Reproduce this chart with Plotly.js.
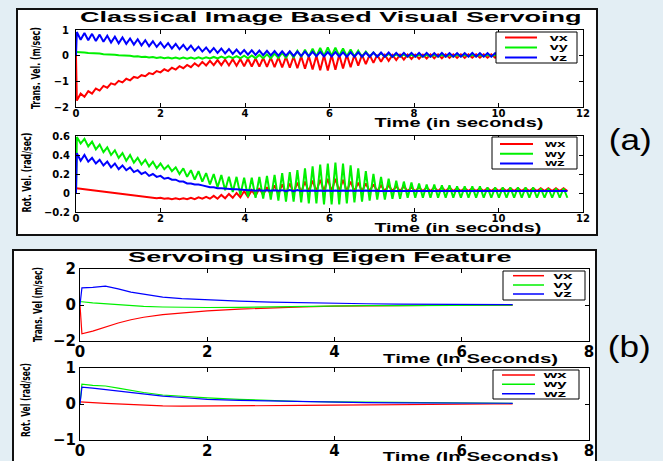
<!DOCTYPE html>
<html>
<head>
<meta charset="utf-8">
<script src="https://cdn.plot.ly/plotly-3.0.1.min.js"></script>
<style>
html,body{margin:0;padding:0;background:#e3eef4;}
#plot{width:663px;height:461px;}
</style>
</head>
<body>
<div id="plot"></div>
<script>
// ---------------- DATA ----------------
const namesV = ['vx', 'vy', 'vz'];
const namesW = ['wx', 'wy', 'wz'];

// Panel (a): oscillating responses, one value per half-cycle
// time base of the oscillation (seconds)
const cycleStart = 0.02;
const cyclePeriod = 0.18;

// Trans. vel (a): first value of each cycle, then second value of each cycle
const vxA_1 = [-1.75,-1.60,-1.48,-1.36,-1.25,-1.13,-1.04,-0.96,-0.87,-0.80,
 -0.72,-0.65,-0.60,-0.54,-0.49,-0.45,-0.41,-0.38,-0.37,-0.37,
 -0.38,-0.39,-0.41,-0.42,-0.43,-0.44,-0.45,-0.46,-0.47,-0.49,
 -0.51,-0.54,-0.57,-0.58,-0.55,-0.50,-0.45,-0.39,-0.33,-0.28,
 -0.24,-0.20,-0.17,-0.15,-0.13,-0.12,-0.11,-0.10,-0.10,-0.09,
 -0.09,-0.09,-0.08,-0.08,-0.08,-0.08,-0.07,-0.07,-0.07,-0.07,
 -0.07,-0.06,-0.06,-0.06,-0.06];
const vxA_2 = [-1.48,-1.38,-1.28,-1.18,-1.08,-0.98,-0.90,-0.83,-0.76,-0.68,
 -0.60,-0.53,-0.47,-0.41,-0.36,-0.30,-0.24,-0.20,-0.17,-0.15,
 -0.14,-0.13,-0.12,-0.11,-0.09,-0.08,-0.07,-0.05,-0.04,-0.02,
 -0.01,0.00,0.02,0.03,0.04,0.04,0.03,0.03,0.03,0.03,
 0.03,0.03,0.04,0.04,0.04,0.04,0.05,0.05,0.05,0.05,
 0.05,0.05,0.05,0.05,0.05,0.05,0.05,0.05,0.05,0.05,
 0.05,0.05,0.05,0.05,0.05];
const vyA_1 = [0.14,0.12,0.10,0.08,0.06,0.04,0.02,0.00,-0.02,-0.04,
 -0.05,-0.06,-0.07,-0.07,-0.07,-0.07,-0.06,-0.06,-0.05,-0.04,
 -0.03,-0.02,0.00,0.01,0.03,0.05,0.08,0.11,0.15,0.19,
 0.23,0.27,0.30,0.32,0.31,0.28,0.24,0.20,0.16,0.12,
 0.09,0.07,0.05,0.04,0.03,0.03,0.03,0.03,0.03,0.03,
 0.03,0.03,0.03,0.03,0.03,0.03,0.03,0.03,0.03,0.03,
 0.03,0.03,0.03,0.03,0.03];
const vyA_2 = [0.13,0.10,0.08,0.06,0.04,0.02,0.00,-0.03,-0.05,-0.07,
 -0.09,-0.10,-0.11,-0.12,-0.12,-0.12,-0.12,-0.11,-0.11,-0.10,
 -0.10,-0.10,-0.10,-0.10,-0.10,-0.10,-0.09,-0.08,-0.07,-0.05,
 -0.04,-0.02,-0.01,0.00,-0.01,-0.02,-0.03,-0.04,-0.04,-0.04,
 -0.04,-0.04,-0.04,-0.04,-0.04,-0.04,-0.04,-0.04,-0.04,-0.04,
 -0.03,-0.03,-0.03,-0.03,-0.03,-0.03,-0.03,-0.03,-0.03,-0.03,
 -0.03,-0.03,-0.03,-0.03,-0.03];
const vzA_1 = [0.92,0.88,0.85,0.82,0.78,0.74,0.71,0.67,0.64,0.60,
 0.56,0.52,0.49,0.46,0.42,0.39,0.35,0.32,0.30,0.28,
 0.26,0.24,0.22,0.21,0.20,0.19,0.18,0.17,0.17,0.16,
 0.16,0.15,0.15,0.14,0.14,0.13,0.13,0.13,0.12,0.12,
 0.12,0.12,0.11,0.11,0.11,0.11,0.11,0.10,0.11,0.10,
 0.10,0.10,0.11,0.10,0.10,0.10,0.10,0.10,0.10,0.10,
 0.10,0.10,0.09,0.10,0.10];
const vzA_2 = [0.62,0.60,0.57,0.54,0.51,0.48,0.46,0.43,0.40,0.37,
 0.34,0.31,0.28,0.25,0.22,0.19,0.16,0.13,0.11,0.09,
 0.07,0.06,0.04,0.03,0.02,0.01,0.00,0.00,-0.01,-0.01,
 -0.02,-0.02,-0.03,-0.03,-0.03,-0.04,-0.04,-0.04,-0.04,-0.04,
 -0.04,-0.04,-0.04,-0.04,-0.04,-0.04,-0.04,-0.04,-0.04,-0.04,
 -0.04,-0.04,-0.04,-0.04,-0.04,-0.04,-0.04,-0.04,-0.04,-0.04,
 -0.04,-0.04,-0.04,-0.04,-0.04];
const vStartA = [0, 0.14, 0];   // values at t = 0

// Rot. vel (a)
const wxA_1 = [0.05,0.04,0.03,0.02,0.01,0.00,-0.01,-0.02,-0.03,-0.04,
 -0.05,-0.05,-0.055,-0.055,-0.055,-0.05,-0.045,-0.04,-0.03,-0.02,
 -0.01,0.00,0.02,0.03,0.05,0.06,0.08,0.09,0.10,0.11,
 0.12,0.13,0.14,0.15,0.15,0.14,0.12,0.11,0.10,0.09,
 0.08,0.08,0.07,0.07,0.06,0.06,0.06,0.06,0.06,0.06,
 0.05,0.05,0.05,0.05,0.05,0.05,0.05,0.05,0.05,0.05,
 0.05,0.05,0.05,0.05,0.05];
const wxA_2 = [0.045,0.035,0.025,0.015,0.005,-0.005,-0.015,-0.025,-0.035,-0.045,
 -0.055,-0.06,-0.065,-0.065,-0.065,-0.065,-0.06,-0.06,-0.06,-0.055,
 -0.05,-0.045,-0.04,-0.03,-0.02,-0.015,-0.01,0.00,0.005,0.01,
 0.015,0.02,0.02,0.02,0.02,0.02,0.02,0.02,0.02,0.02,
 0.02,0.02,0.02,0.02,0.02,0.02,0.02,0.02,0.02,0.02,
 0.02,0.02,0.02,0.02,0.02,0.02,0.02,0.02,0.02,0.02,
 0.02,0.02,0.02,0.02,0.02];
const wyA_1 = [0.59,0.57,0.54,0.51,0.48,0.45,0.42,0.40,0.37,0.35,
 0.33,0.31,0.29,0.27,0.26,0.24,0.23,0.21,0.20,0.19,
 0.17,0.17,0.16,0.16,0.17,0.18,0.19,0.21,0.22,0.24,
 0.26,0.28,0.30,0.31,0.32,0.31,0.29,0.26,0.23,0.20,
 0.17,0.15,0.13,0.12,0.11,0.10,0.09,0.09,0.08,0.08,
 0.07,0.07,0.07,0.07,0.06,0.06,0.06,0.06,0.06,0.06,
 0.06,0.05,0.05,0.05,0.05];
const wyA_2 = [0.52,0.49,0.46,0.43,0.40,0.37,0.34,0.32,0.30,0.28,
 0.26,0.25,0.23,0.20,0.17,0.14,0.12,0.09,0.06,0.03,
 0.01,-0.02,-0.04,-0.05,-0.06,-0.07,-0.08,-0.09,-0.09,-0.10,
 -0.11,-0.11,-0.12,-0.12,-0.12,-0.11,-0.10,-0.09,-0.08,-0.07,
 -0.07,-0.06,-0.06,-0.05,-0.05,-0.05,-0.05,-0.05,-0.05,-0.05,
 -0.05,-0.05,-0.05,-0.05,-0.05,-0.05,-0.05,-0.05,-0.05,-0.05,
 -0.05,-0.05,-0.05,-0.05,-0.05];
const wzA_1 = [0.42,0.40,0.37,0.35,0.33,0.31,0.29,0.27,0.24,0.22,
 0.20,0.18,0.16,0.14,0.12,0.10,0.09,0.07,0.06,0.05,
 0.045,0.04,0.035,0.03,0.03,0.03,0.03,0.03,0.03,0.03,
 0.025,0.025,0.025,0.025,0.025,0.025,0.025,0.025,0.025,0.025,
 0.02,0.02,0.02,0.02,0.02,0.02,0.02,0.02,0.02,0.02,
 0.02,0.02,0.02,0.02,0.02,0.02,0.02,0.02,0.02,0.02,
 0.02,0.02,0.02,0.02,0.02];
const wzA_2 = [0.34,0.33,0.31,0.29,0.27,0.25,0.24,0.22,0.20,0.18,
 0.17,0.15,0.14,0.12,0.10,0.09,0.08,0.06,0.05,0.045,
 0.04,0.035,0.03,0.025,0.025,0.025,0.025,0.02,0.02,0.02,
 0.02,0.02,0.02,0.02,0.02,0.02,0.02,0.02,0.02,0.02,
 0.02,0.02,0.02,0.02,0.02,0.02,0.02,0.02,0.02,0.02,
 0.02,0.02,0.02,0.02,0.02,0.02,0.02,0.02,0.02,0.02,
 0.02,0.02,0.02,0.02,0.02];
const wStartA = [0.05, 0, 0];

// Panel (b): smooth responses
const timeB = [0, 0.03, 0.2, 0.4, 0.6, 0.8, 1.0, 1.3, 1.6, 2.0, 2.5, 3.0, 3.5, 4.0, 4.5, 5.0, 5.5, 6.0, 6.5, 6.8];
const vxB = [0, -1.6, -1.45, -1.22, -1.0, -0.82, -0.68, -0.54, -0.44, -0.33, -0.23, -0.15, -0.1, -0.06, -0.04, -0.03, -0.02, -0.01, -0.01, -0.01];
const vyB = [0.18, 0.18, 0.12, 0.06, 0.01, -0.04, -0.08, -0.11, -0.13, -0.14, -0.13, -0.1, -0.08, -0.06, -0.04, -0.03, -0.02, -0.01, -0.01, -0.01];
const vzB = [0, 0.95, 0.98, 1.05, 0.9, 0.72, 0.6, 0.44, 0.35, 0.27, 0.21, 0.16, 0.12, 0.09, 0.07, 0.05, 0.04, 0.03, 0.02, 0.02];
const wxB = [0.06, 0.06, 0.04, 0.02, 0.0, -0.02, -0.04, -0.05, -0.06, -0.06, -0.06, -0.05, -0.04, -0.03, -0.02, -0.015, -0.01, -0.01, 0.0, 0.0];
const wyB = [0, 0.55, 0.52, 0.5, 0.44, 0.37, 0.32, 0.25, 0.21, 0.17, 0.13, 0.09, 0.07, 0.06, 0.05, 0.04, 0.03, 0.02, 0.02, 0.02];
const wzB = [0, 0.47, 0.44, 0.40, 0.35, 0.31, 0.27, 0.22, 0.18, 0.13, 0.1, 0.08, 0.06, 0.05, 0.04, 0.03, 0.025, 0.02, 0.02, 0.02];

// tick values
const xTicksA = [0, 2, 4, 6, 8, 10, 12];
const yTicks1 = [-2, -1, 0, 1];
const yTicks2 = [-0.2, 0, 0.2, 0.4, 0.6];
const xTicksB = [0, 2, 4, 6, 8];
const yTicks3 = [-2, 0, 2];
const yTicks4 = [-1, 0, 1];

// ---------------- BUILD ----------------
const W = 663, H = 461;
const PX = x => x / W;
const PY = y => 1 - y / H;
const colors = ['#ff0000', '#00f000', '#0000ff'];

function zig(first, second, startVal) {
  const x = [0], y = [startVal];
  for (let k = 0; k < first.length; k++) {
    x.push(cycleStart + k * cyclePeriod); y.push(first[k]);
    x.push(cycleStart + k * cyclePeriod + cyclePeriod / 2); y.push(second[k]);
  }
  return {x, y};
}

const data = [];
function addTrace(xy, ax, ay, color, width, name) {
  data.push({type: 'scatter', mode: 'lines', x: xy.x, y: xy.y, xaxis: ax, yaxis: ay,
    name: name, showlegend: false, hoverinfo: 'skip',
    line: {color: color, width: width}});
}
const vA = [[vxA_1, vxA_2], [vyA_1, vyA_2], [vzA_1, vzA_2]];
const wA = [[wxA_1, wxA_2], [wyA_1, wyA_2], [wzA_1, wzA_2]];
vA.forEach((s, i) => addTrace(zig(s[0], s[1], vStartA[i]), 'x', 'y', colors[i], 2, namesV[i]));
wA.forEach((s, i) => addTrace(zig(s[0], s[1], wStartA[i]), 'x2', 'y2', colors[i], 2, namesW[i]));
[vxB, vyB, vzB].forEach((s, i) => addTrace({x: timeB, y: s}, 'x3', 'y3', colors[i], 1.2, namesV[i]));
[wxB, wyB, wzB].forEach((s, i) => addTrace({x: timeB, y: s}, 'x4', 'y4', colors[i], 1.2, namesW[i]));

const axBase = {showline: true, linecolor: '#000', linewidth: 1, mirror: 'ticks', ticks: 'inside',
  ticklen: 4, tickwidth: 1, tickcolor: '#000', showgrid: false, zeroline: false, fixedrange: true};
const fontA = {family: 'DejaVu Sans, Arial', size: 10, color: '#000', weight: 'bold'};
const fontB = {family: 'DejaVu Sans, Arial', size: 15, color: '#000', weight: 'bold'};

function ax(extra) { return Object.assign({}, axBase, extra); }

const layout = {
  width: W, height: H,
  margin: {l: 0, r: 0, t: 0, b: 0},
  paper_bgcolor: '#e3eef4',
  plot_bgcolor: '#ffffff',
  showlegend: false,
  xaxis:  ax({domain: [PX(76), PX(583)], anchor: 'y',  range: [0, 12], tickvals: xTicksA, tickfont: fontA, ticklabelstandoff: -3}),
  yaxis:  ax({domain: [PY(107), PY(30)], anchor: 'x',  range: [-2, 1], tickvals: yTicks1, tickfont: fontA, ticklabelstandoff: 4}),
  xaxis2: ax({domain: [PX(76), PX(583)], anchor: 'y2', range: [0, 12], tickvals: xTicksA, tickfont: fontA, ticklabelstandoff: -3}),
  yaxis2: ax({domain: [PY(212), PY(136)], anchor: 'x2', range: [-0.2, 0.6], tickvals: yTicks2, tickfont: fontA, ticklabelstandoff: 3}),
  xaxis3: ax({domain: [PX(80), PX(589)], anchor: 'y3', range: [0, 8], tickvals: xTicksB, tickfont: fontB, ticklabelstandoff: -3}),
  yaxis3: ax({domain: [PY(341), PY(269)], anchor: 'x3', range: [-2, 2], tickvals: yTicks3, tickfont: fontB}),
  xaxis4: ax({domain: [PX(80), PX(589)], anchor: 'y4', range: [0, 8], tickvals: xTicksB, tickfont: fontB, ticklabelstandoff: -3}),
  yaxis4: ax({domain: [PY(440), PY(368)], anchor: 'x4', range: [-1, 1], tickvals: yTicks4, tickfont: fontB}),
  shapes: [],
  annotations: []
};

// white panels
[[17, 9, 597, 235], [13, 250, 596, 480]].forEach(b => {
  layout.shapes.push({type: 'rect', xref: 'paper', yref: 'paper', layer: 'below',
    x0: PX(b[0]), x1: PX(b[2]), y0: PY(b[3]), y1: PY(b[1]),
    fillcolor: '#ffffff', line: {color: '#111', width: 2}});
});

// text annotations (px positions, target widths)
const annSpecs = [];
function addText(text, x, y, size, opts) {
  opts = opts || {};
  annSpecs.push({w: opts.w});
  layout.annotations.push({text: text, xref: 'paper', yref: 'paper', x: PX(x), y: PY(y),
    xanchor: 'center', yanchor: 'middle', showarrow: false, textangle: opts.angle || 0,
    font: {family: opts.family || 'Liberation Sans, Arial', size: size, color: '#000',
      weight: opts.bold ? 'bold' : 'normal'}});
}
const narrow = 'Liberation Sans Narrow, DejaVu Sans Condensed, Arial';
addText('Classical Image Based Visual Servoing', 331, 16.5, 14, {bold: true, w: 502});
addText('Time (in seconds)', 459, 123, 12, {bold: true, w: 169});
addText('Time (in seconds)', 458, 228, 12, {bold: true, w: 167});
addText('Trans. Vel. (m/sec)', 35, 68, 13, {angle: -90, w: 82, family: narrow, bold: true});
addText('Rot. Vel. (rad/sec)', 26, 173, 13, {angle: -90, w: 80, family: narrow, bold: true});
addText('(a)', 630, 140, 30, {w: 43});
addText('Servoing using Eigen Feature', 320, 256.5, 14, {bold: true, w: 384});
addText('Trans. Vel (m/sec)', 37, 305, 12.5, {angle: -90, w: 75, family: narrow, bold: true});
addText('Rot. Vel (rad/sec)', 25, 400, 12.5, {angle: -90, w: 74, family: narrow, bold: true});
addText('(b)', 629, 346, 30, {w: 43});
addText('Time (In Seconds)', 470, 359, 12, {bold: true, w: 175});
addText('Time (In Seconds)', 470, 457, 12, {bold: true, w: 176});

// legends (drawn as boxes + sample lines + labels)
const legends = [
  {box: [496, 32, 577, 63], line: [505, 537], ys: [37.5, 47.5, 57.5], tx: 559, tw: 18, names: namesV, lw: 2},
  {box: [492, 137, 577, 169], line: [500, 533], ys: [144, 153.7, 163.5], tx: 554, tw: 22, names: namesW, lw: 2},
  {box: [503, 271, 585, 300], line: [513, 544], ys: [275.7, 285, 294], tx: 563, tw: 19, names: namesV, lw: 1.5},
  {box: [493, 370, 579, 399], line: [502, 535], ys: [375, 384.3, 393.7], tx: 554, tw: 25, names: namesW, lw: 1.5}
];
legends.forEach(L => {
  layout.shapes.push({type: 'rect', xref: 'paper', yref: 'paper', layer: 'above',
    x0: PX(L.box[0]), x1: PX(L.box[2]), y0: PY(L.box[3]), y1: PY(L.box[1]),
    fillcolor: '#ffffff', line: {color: '#000', width: 1}});
  L.names.forEach((n, i) => {
    layout.shapes.push({type: 'line', xref: 'paper', yref: 'paper', layer: 'above',
      x0: PX(L.line[0]), x1: PX(L.line[1]), y0: PY(L.ys[i]), y1: PY(L.ys[i]),
      line: {color: colors[i], width: L.lw}});
    addText(n, L.tx, L.ys[i], 9, {bold: true, w: L.tw});
  });
});

Plotly.newPlot('plot', data, layout, {staticPlot: true, displayModeBar: false}).then(() => {
  document.querySelectorAll('g.annotation').forEach(g => {
    const idx = +g.getAttribute('data-index');
    const spec = annSpecs[idx];
    const t = g.querySelector('text');
    if (!spec || !spec.w || !t) return;
    const bb = t.getBBox();
    if (!bb.width) return;
    const s = spec.w / bb.width;
    t.style.transformBox = 'fill-box';
    t.style.transformOrigin = 'center';
    t.style.transform = 'scaleX(' + s + ')';
  });
});
</script>
</body>
</html>
